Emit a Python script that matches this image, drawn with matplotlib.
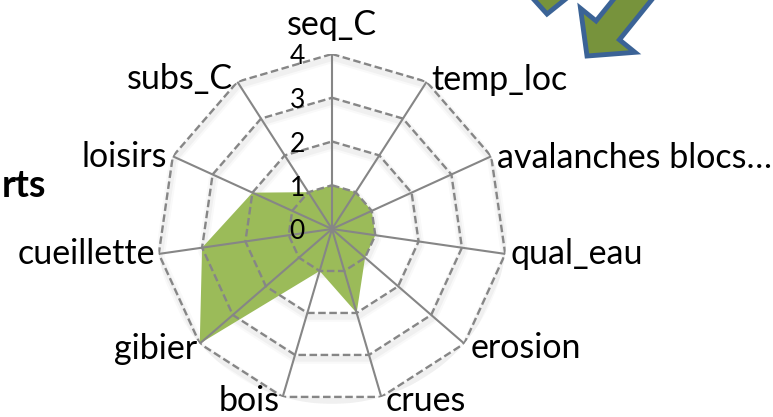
import matplotlib
matplotlib.use('Agg')
import matplotlib.pyplot as plt
import matplotlib.transforms as mtransforms
import numpy as np
from matplotlib.patches import Polygon

plt.rcParams['font.family'] = ['Lato', 'DejaVu Sans']

# data
categories = ['seq_C', 'temp_loc', 'avalanches blocs…', 'qual_eau', 'erosion',
              'crues', 'bois', 'gibier', 'cueillette', 'loisirs', 'subs_C']
values = [1, 1, 1, 1, 1, 2, 1, 4, 3, 2, 1]
rings = [1, 2, 3, 4]
tick_labels = ['0', '1', '2', '3', '4']

W, H = 773, 417
fig = plt.figure(figsize=(W / 100, H / 100), dpi=100)

# polar axes centred at (332, 229) px, radius 175 px
cx, cy, R = 332, 229, 175
ax = fig.add_axes([(cx - R) / W, (H - cy - R) / H, 2 * R / W, 2 * R / H], projection='polar')
ax.set_theta_zero_location('N')
ax.set_theta_direction(-1)
ax.set_ylim(0, 4)
ax.set_xticks([])
ax.set_yticks([])
ax.grid(False)
ax.spines['polar'].set_visible(False)
ax.patch.set_visible(False)

n = len(categories)
theta = np.arange(n) * 2 * np.pi / n
theta_c = np.append(theta, theta[0])

grey = '#868686'

# soft shadow under each ring, shifted a few pixels down
shadow = mtransforms.offset_copy(ax.transData, fig=fig, x=1, y=-4, units='dots')
for v in rings:
    for lw, a in [(7, 0.025), (4, 0.035)]:
        ax.plot(theta_c, [v] * (n + 1), color='black', lw=lw, alpha=a, zorder=0,
                transform=shadow, solid_joinstyle='round')

# filled series
ax.fill(theta_c, values + values[:1], color='#9BBB59', lw=0, zorder=1)

# spokes and dashed rings
for t in theta:
    ax.plot([t, t], [0, 4], color=grey, lw=1.5, zorder=2)
for v in rings:
    ax.plot(theta_c, [v] * (n + 1), color=grey, lw=1.7, ls=(0, (3.2, 1.5)), zorder=2)

# value labels along the top spoke
for i, lab in enumerate(tick_labels):
    ax.annotate(lab, xy=(0, i), xytext=(-25, -2), textcoords='offset points',
                ha='center', va='center', fontsize=19, color='black', zorder=3)

# category labels (offsets in px)
offsets = [(0, 29), (5, 2), (6, -2), (5, 0), (6, -4), (4, -4),
           (-3, -4), (-3, -5), (-4, 0), (-6, -1), (-4, 3)]
for t, name, (dx, dy) in zip(theta, categories, offsets):
    s = np.sin(t)
    if abs(s) < 1e-6:
        ha = 'center'
    elif s > 0:
        ha = 'left'
    else:
        ha = 'right'
    ax.annotate(name, xy=(t, 4), xytext=(dx * 0.72, dy * 0.72), textcoords='offset points',
                ha=ha, va='center', fontsize=24.5, color='black')

# cut-off title on the left
fig.text(46 / W, 1 - 186 / H, 'rts', ha='right', va='center', fontsize=27,
         fontweight='bold', color='black')


# block arrows at the top right (partly outside the picture)
def arrow(tip, direction, length=110, head_len=33, head_w=35, shaft_w=15):
    d = np.array(direction, float)
    d = d / np.hypot(*d)
    p = np.array([-d[1], d[0]])
    tip = np.array(tip, float)
    base = tip + d * head_len
    end = tip + d * length
    pts = [tip, base + p * head_w, base + p * shaft_w, end + p * shaft_w,
           end - p * shaft_w, base - p * shaft_w, base - p * head_w]
    pts = [(x / W, 1 - y / H) for x, y in pts]
    fig.patches.append(Polygon(pts, closed=True, transform=fig.transFigure,
                               facecolor='#77933C', edgecolor='#3B6396', lw=3.5,
                               joinstyle='miter'))


arrow((587, 56), (0.63, -0.78))
arrow((547, 14), (0.08, -1))

fig.savefig('out.png', dpi=100)
